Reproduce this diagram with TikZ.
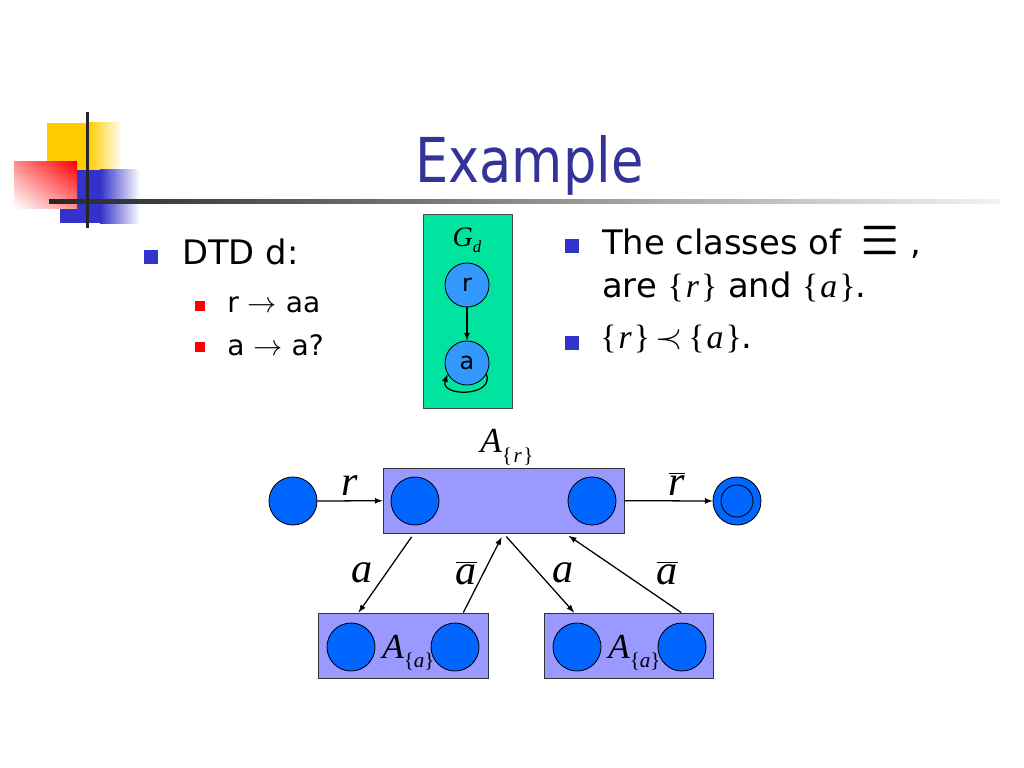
\documentclass[tikz,border=0pt]{standalone}
\usepackage{fontspec}
\setmainfont{DejaVu Sans}
\newfontfamily\ttlfont{DejaVu Sans}[FakeStretch=0.85]
\newfontfamily\tms{Liberation Serif}
\usepackage{tikz}
\usetikzlibrary{arrows,calc,positioning,shadings}
\usepackage{xcolor}
\definecolor{titleblue}{RGB}{51,51,153}
\definecolor{bullblue}{RGB}{51,51,204}
\definecolor{stblue}{RGB}{0,102,255}
\definecolor{gdblue}{RGB}{51,153,255}
\definecolor{gdgreen}{RGB}{0,228,160}
\definecolor{boxlav}{RGB}{153,153,255}
\definecolor{decoyel}{RGB}{255,204,0}
\newcommand\tset[1]{{\tms\{\hspace{0.06em}\textit{#1}\hspace{0.06em}\}}}

\begin{document}
\begin{tikzpicture}[x=0.025cm,y=-0.025cm,>=latex]
\edef\sizestate{1.2cm}
\edef\sizegd{1.1cm}
\tikzstyle{state}=[circle,draw,fill=stblue,minimum size=\sizestate,inner sep=0pt,line width=0.6pt]
\tikzstyle{gstate}=[circle,draw,fill=gdblue,minimum size=\sizegd,inner sep=0pt,line width=0.6pt,font=\fontsize{17}{17}\selectfont]
\tikzstyle{autbox}=[draw=black!80,fill=boxlav,inner sep=0pt,line width=0.6pt,minimum height=1.625cm]
\tikzstyle{txt}=[anchor=base west,inner sep=0pt,font=\fontsize{24}{28}\selectfont]
\tikzstyle{subtxt}=[anchor=base west,inner sep=0pt,font=\fontsize{20}{24}\selectfont]
\tikzstyle{bullet}=[fill=bullblue,minimum size=0.33cm,inner sep=0pt]
\tikzstyle{subbullet}=[fill=red,minimum size=0.25cm,inner sep=0pt]
\tikzstyle{lbl}=[font=\tms\fontsize{30}{30}\selectfont\itshape]
\tikzstyle{albl}=[anchor=base west,inner sep=0pt,font=\tms\fontsize{25}{25}\selectfont\itshape]
\tikzstyle{edge}=[->,line width=0.9pt]

\useasboundingbox (0,0) rectangle (1024,768);

\fill[decoyel] (47,123) rectangle (88,170);
\shade[left color=decoyel,right color=white] (88,123) rectangle (122,170);
\fill[bullblue] (60,170) rectangle (100,223);
\shade[left color=bullblue,right color=white] (100,170) rectangle (140,223);
\shade[upper right=red,lower left=white,upper left=red!45!white,lower right=red!45!white] (14,162) rectangle (77,208);
\shade[left color=black!85,right color=black!5] (49,199) rectangle (1000,203);
\fill[black!85] (86,112) rectangle (89,228);

\node[anchor=base west,inner sep=0pt,text=titleblue,font=\ttlfont\fontsize{44}{48}\selectfont] (title) at (415,182) {Example};

\node[bullet] (bu1) at (151,257) {};
\node[txt] (dtd) at (182,264) {DTD d:};
\node[subbullet] (sb1) at (200,306) {};
\node[subtxt] (rule1) at (227,312) {r $\rightarrow$ aa};
\node[subbullet] (sb2) at (200,347) {};
\node[subtxt] (rule2) at (227,355) {a $\rightarrow$ a?};

\node[bullet] (bu2) at (572,246) {};
\node[txt] (cls1) at (602,254) {The classes of\hspace{0.6em}\scalebox{1.2}[1.6]{\boldmath$\equiv$}\hspace{0.35em},};
\node[txt] (cls2) at (602,297) {are \tset{r} and \tset{a}.};
\node[bullet] (bu3) at (572,343) {};
\node[txt] (prec) at (600,348) {\tset{r}\,$\prec$\,\tset{a}.};

\node[draw=black!70,fill=gdgreen,minimum width=2.225cm,minimum height=4.85cm,inner sep=0pt,line width=0.6pt] (gd) at (467.5,311) {};
\node (gdl) at (467,240) {\tms\fontsize{20}{20}\selectfont\itshape G\raisebox{-4pt}{\fontsize{12}{12}\selectfont d}};
\node[gstate] (r) at (467,285) {r};
\node[gstate] (a) at (467,363) {a};
\draw[edge] (r) -- (a);
\draw[edge] (a.-30) to[out=-70,in=-110,looseness=1.6] (a.-150);

\node[autbox,minimum width=6.025cm] (ar) at (503.5,500.5) {};
\node[state] (s0) at (293,501) {};
\node[state] (q1) at (415,501) {};
\node[state] (q2) at (592,501) {};
\node[state] (fin) at (737,501) {};
\node[circle,draw,minimum size=0.8cm,inner sep=0pt,line width=0.6pt] (finin) at (fin) {};
\node[albl] (lar) at (480,452) {A\raisebox{-7.5pt}{\fontsize{15}{15}\selectfont\upshape\{\hspace{0.08em}\itshape r\upshape\hspace{0.08em}\}}};

\node[autbox,minimum width=4.25cm] (bl) at (403,645.5) {};
\node[autbox,minimum width=4.225cm] (br) at (628.5,645.5) {};
\node[state] (c1) at (351,647) {};
\node[state] (c2) at (455,647) {};
\node[state] (c3) at (577,647) {};
\node[state] (c4) at (682,647) {};
\node[albl] (lal) at (382,658) {A\raisebox{-7pt}{\fontsize{15}{15}\selectfont\upshape\{\itshape a\upshape\}}};
\node[albl] (lal2) at (608,658) {A\raisebox{-7pt}{\fontsize{15}{15}\selectfont\upshape\{\itshape a\upshape\}}};

\draw[edge] (s0) -- (ar) node[midway,above,lbl] {r};
\draw[edge] (ar) -- (fin) node[midway,above,xshift=6pt,lbl] {$\overline{\mbox{r}}$};
\draw[edge,shorten <=3pt] ($(ar.south west)!0.13!(ar.south east)$) -- ($(bl.north west)!0.24!(bl.north east)$) node[midway,left=6pt,lbl] {a};
\draw[edge,shorten >=3pt] ($(bl.north west)!0.853!(bl.north east)$) -- (ar.south) node[midway,left=1pt,lbl] {$\overline{\mbox{a}}$};
\draw[edge,shorten <=3pt] (ar.south) -- ($(br.north west)!0.18!(br.north east)$) node[midway,right=6pt,lbl] {a};
\draw[edge,shorten >=3pt] ($(br.north west)!0.81!(br.north east)$) -- ($(ar.south west)!0.755!(ar.south east)$) node[midway,right=20pt,lbl] {$\overline{\mbox{a}}$};
\end{tikzpicture}
\end{document}
